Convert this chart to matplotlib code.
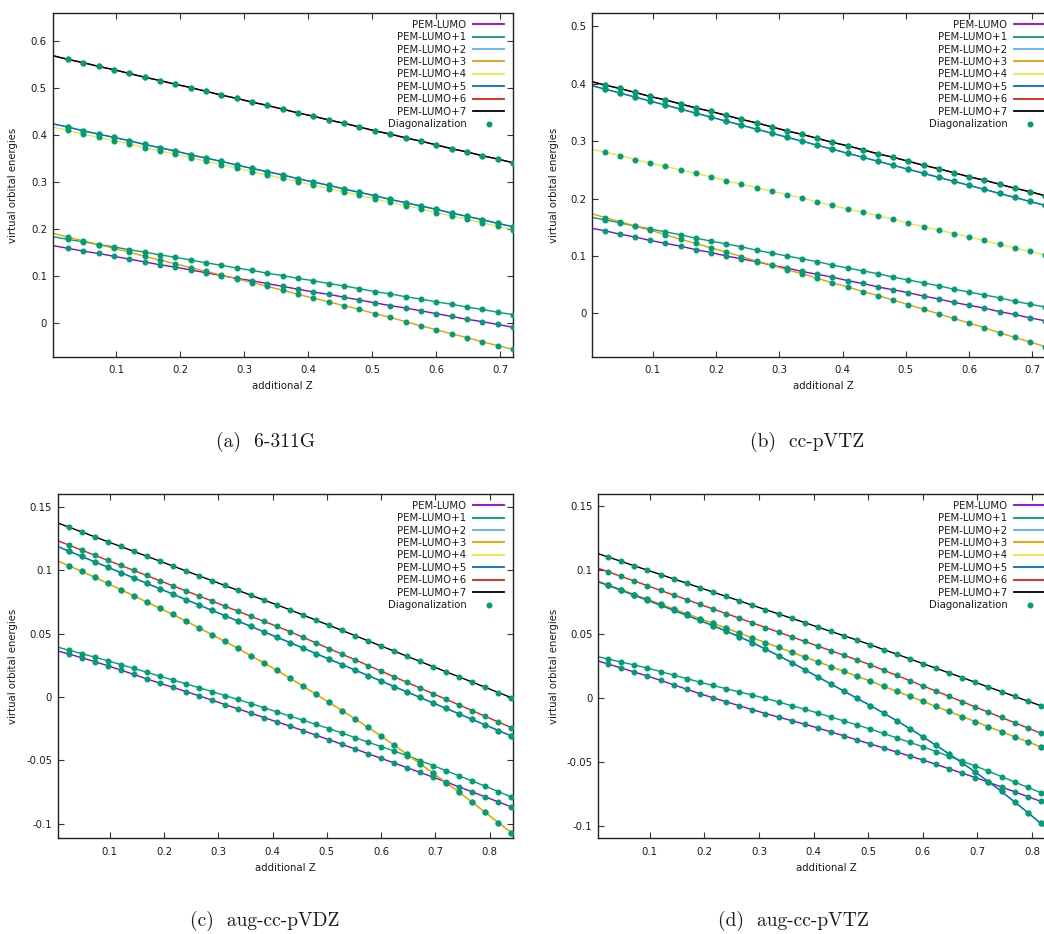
import matplotlib.pyplot as plt
from matplotlib.lines import Line2D
from matplotlib.ticker import FuncFormatter

# additional nuclear charge; the first entry (0) only starts the PEM curve,
# diagonalization points are at the remaining ones
z_ab = [0.000, 0.024, 0.048, 0.072, 0.096, 0.120, 0.144, 0.168, 0.192, 0.216,
        0.240, 0.264, 0.288, 0.312, 0.336, 0.360, 0.384, 0.408, 0.432, 0.456,
        0.480, 0.504, 0.528, 0.552, 0.576, 0.600, 0.624, 0.648, 0.672, 0.696,
        0.720]
z_cd = z_ab + [0.744, 0.768, 0.792, 0.816, 0.840]

# (a) 6-311G
lumo0_a = [0.165, 0.159, 0.153, 0.148, 0.142, 0.136, 0.130, 0.124, 0.119, 0.113,
           0.107, 0.101, 0.095, 0.090, 0.084, 0.078, 0.072, 0.066, 0.061, 0.055,
           0.049, 0.043, 0.037, 0.032, 0.026, 0.020, 0.014, 0.008, 0.003, -0.003,
           -0.009]
lumo1_a = [0.184, 0.178, 0.173, 0.167, 0.162, 0.156, 0.151, 0.145, 0.140, 0.134,
           0.128, 0.123, 0.117, 0.112, 0.106, 0.101, 0.095, 0.090, 0.084, 0.079,
           0.073, 0.067, 0.062, 0.056, 0.051, 0.045, 0.040, 0.034, 0.029, 0.023,
           0.018]
lumo5_a = [0.424, 0.417, 0.409, 0.402, 0.395, 0.388, 0.380, 0.373, 0.366, 0.358,
           0.351, 0.344, 0.336, 0.329, 0.322, 0.315, 0.307, 0.300, 0.293, 0.285,
           0.278, 0.271, 0.263, 0.256, 0.249, 0.242, 0.234, 0.227, 0.220, 0.212,
           0.205]
lumo2_a = list(lumo5_a)
lumo3_a = [0.191, 0.183, 0.175, 0.167, 0.159, 0.151, 0.142, 0.134, 0.126, 0.118,
           0.110, 0.102, 0.094, 0.086, 0.078, 0.070, 0.061, 0.053, 0.045, 0.037,
           0.029, 0.020, 0.012, 0.003, -0.006, -0.014, -0.023, -0.031, -0.040,
           -0.048, -0.056]
lumo4_a = [0.417, 0.410, 0.402, 0.395, 0.388, 0.381, 0.373, 0.366, 0.359, 0.352,
           0.344, 0.337, 0.330, 0.322, 0.315, 0.308, 0.301, 0.293, 0.286, 0.279,
           0.272, 0.264, 0.257, 0.250, 0.243, 0.235, 0.228, 0.221, 0.213, 0.206,
           0.199]
lumo7_a = [0.569, 0.561, 0.554, 0.546, 0.539, 0.531, 0.523, 0.516, 0.508, 0.501,
           0.493, 0.485, 0.478, 0.470, 0.463, 0.455, 0.447, 0.440, 0.432, 0.425,
           0.417, 0.409, 0.402, 0.394, 0.387, 0.379, 0.371, 0.364, 0.356, 0.349,
           0.341]
lumo6_a = list(lumo7_a)

# (b) cc-pVTZ
lumo0_b = [0.149, 0.144, 0.138, 0.133, 0.127, 0.122, 0.117, 0.111, 0.106, 0.100,
           0.095, 0.090, 0.084, 0.079, 0.073, 0.068, 0.063, 0.057, 0.052, 0.046,
           0.041, 0.036, 0.030, 0.025, 0.019, 0.014, 0.009, 0.003, -0.002, -0.008,
           -0.013]
lumo1_b = [0.168, 0.163, 0.158, 0.152, 0.147, 0.142, 0.137, 0.131, 0.126, 0.121,
           0.116, 0.110, 0.105, 0.100, 0.095, 0.090, 0.084, 0.079, 0.074, 0.069,
           0.063, 0.058, 0.053, 0.048, 0.042, 0.037, 0.032, 0.027, 0.021, 0.016,
           0.011]
lumo5_b = [0.398, 0.391, 0.384, 0.377, 0.370, 0.363, 0.356, 0.349, 0.342, 0.335,
           0.328, 0.321, 0.314, 0.307, 0.300, 0.293, 0.286, 0.279, 0.272, 0.265,
           0.258, 0.251, 0.244, 0.237, 0.230, 0.223, 0.216, 0.209, 0.202, 0.195,
           0.188]
lumo2_b = list(lumo5_b)
lumo3_b = [0.175, 0.167, 0.160, 0.152, 0.145, 0.137, 0.129, 0.122, 0.114, 0.107,
           0.099, 0.091, 0.084, 0.076, 0.069, 0.061, 0.053, 0.046, 0.038, 0.031,
           0.023, 0.015, 0.007, -0.001, -0.009, -0.017, -0.025, -0.034, -0.042,
           -0.050, -0.058]
lumo4_b = [0.287, 0.281, 0.275, 0.268, 0.262, 0.256, 0.250, 0.244, 0.238, 0.231,
           0.225, 0.219, 0.213, 0.207, 0.201, 0.194, 0.188, 0.182, 0.176, 0.170,
           0.164, 0.157, 0.151, 0.145, 0.139, 0.133, 0.127, 0.120, 0.114, 0.108,
           0.102]
lumo7_b = [0.405, 0.398, 0.392, 0.385, 0.378, 0.372, 0.365, 0.358, 0.352, 0.345,
           0.338, 0.332, 0.325, 0.318, 0.312, 0.305, 0.298, 0.292, 0.285, 0.278,
           0.272, 0.265, 0.258, 0.252, 0.245, 0.238, 0.232, 0.225, 0.218, 0.212,
           0.205]
lumo6_b = list(lumo7_b)

# (c) aug-cc-pVDZ
lumo0_c = [0.0368, 0.0340, 0.0310, 0.0279, 0.0247, 0.0213, 0.0178, 0.0143, 0.0109,
           0.0076, 0.0043, 0.0010, -0.0025, -0.0060, -0.0094, -0.0128, -0.0163,
           -0.0197, -0.0230, -0.0266, -0.0302, -0.0338, -0.0374, -0.0411, -0.0448,
           -0.0485, -0.0521, -0.0559, -0.0596, -0.0634, -0.0671, -0.0711, -0.0750,
           -0.0789, -0.0829, -0.0868]
lumo1_c = [0.0398, 0.0370, 0.0343, 0.0314, 0.0286, 0.0256, 0.0226, 0.0195, 0.0164,
           0.0134, 0.0104, 0.0074, 0.0043, 0.0011, -0.0020, -0.0052, -0.0085,
           -0.0118, -0.0151, -0.0184, -0.0217, -0.0250, -0.0285, -0.0321, -0.0357,
           -0.0392, -0.0427, -0.0463, -0.0503, -0.0542, -0.0583, -0.0623, -0.0664,
           -0.0705, -0.0747, -0.0790]
lumo5_c = [0.1195, 0.1152, 0.1110, 0.1067, 0.1025, 0.0982, 0.0940, 0.0897, 0.0855,
           0.0812, 0.0769, 0.0727, 0.0684, 0.0642, 0.0599, 0.0557, 0.0514, 0.0472,
           0.0429, 0.0386, 0.0342, 0.0299, 0.0256, 0.0212, 0.0169, 0.0126, 0.0082,
           0.0039, -0.0004, -0.0048, -0.0091, -0.0134, -0.0178, -0.0221, -0.0265,
           -0.0308]
lumo2_c = list(lumo5_c)
lumo3_c = [0.1080, 0.1037, 0.0992, 0.0945, 0.0897, 0.0847, 0.0800, 0.0749, 0.0701,
           0.0652, 0.0599, 0.0547, 0.0493, 0.0438, 0.0384, 0.0326, 0.0268, 0.0210,
           0.0149, 0.0085, 0.0021, -0.0043, -0.0108, -0.0173, -0.0241, -0.0309,
           -0.0381, -0.0454, -0.0528, -0.0603, -0.0677, -0.0753, -0.0832, -0.0912,
           -0.0993, -0.1071]
lumo4_c = list(lumo3_c)
lumo6_c = [0.1240, 0.1200, 0.1160, 0.1119, 0.1079, 0.1039, 0.0999, 0.0959, 0.0918,
           0.0878, 0.0838, 0.0798, 0.0758, 0.0717, 0.0677, 0.0637, 0.0597, 0.0557,
           0.0516, 0.0471, 0.0427, 0.0382, 0.0338, 0.0293, 0.0248, 0.0204, 0.0159,
           0.0115, 0.0070, 0.0025, -0.0019, -0.0064, -0.0108, -0.0153, -0.0198,
           -0.0242]
lumo7_c = [0.1380, 0.1342, 0.1303, 0.1265, 0.1226, 0.1188, 0.1150, 0.1111, 0.1073,
           0.1034, 0.0996, 0.0957, 0.0919, 0.0880, 0.0842, 0.0803, 0.0765, 0.0727,
           0.0688, 0.0647, 0.0606, 0.0566, 0.0525, 0.0484, 0.0443, 0.0402, 0.0362,
           0.0321, 0.0280, 0.0239, 0.0198, 0.0158, 0.0117, 0.0076, 0.0035, -0.0006]

# (d) aug-cc-pVTZ
lumo0_d = [0.0294, 0.0263, 0.0232, 0.0200, 0.0169, 0.0135, 0.0100, 0.0066, 0.0031,
           -0.0001, -0.0032, -0.0063, -0.0094, -0.0124, -0.0152, -0.0180, -0.0208,
           -0.0237, -0.0268, -0.0299, -0.0331, -0.0362, -0.0393, -0.0425, -0.0456,
           -0.0487, -0.0521, -0.0556, -0.0590, -0.0624, -0.0661, -0.0698, -0.0736,
           -0.0773, -0.0811, -0.0848]
lumo1_d = [0.0326, 0.0302, 0.0278, 0.0255, 0.0231, 0.0204, 0.0176, 0.0149, 0.0121,
           0.0095, 0.0070, 0.0045, 0.0020, -0.0006, -0.0034, -0.0063, -0.0091,
           -0.0120, -0.0152, -0.0183, -0.0214, -0.0246, -0.0280, -0.0314, -0.0349,
           -0.0383, -0.0421, -0.0458, -0.0496, -0.0534, -0.0575, -0.0617, -0.0659,
           -0.0701, -0.0743, -0.0785]
lumo5_d = [0.0914, 0.0877, 0.0839, 0.0800, 0.0761, 0.0722, 0.0682, 0.0643, 0.0603,
           0.0562, 0.0520, 0.0476, 0.0430, 0.0380, 0.0328, 0.0274, 0.0218, 0.0162,
           0.0106, 0.0050, -0.0006, -0.0062, -0.0120, -0.0180, -0.0242, -0.0306,
           -0.0372, -0.0440, -0.0510, -0.0582, -0.0656, -0.0733, -0.0815, -0.0898,
           -0.0983, -0.1068]
lumo2_d = list(lumo5_d)
lumo3_d = [0.0919, 0.0881, 0.0844, 0.0806, 0.0769, 0.0731, 0.0693, 0.0656, 0.0618,
           0.0581, 0.0543, 0.0505, 0.0468, 0.0430, 0.0393, 0.0355, 0.0317, 0.0280,
           0.0242, 0.0205, 0.0167, 0.0129, 0.0089, 0.0050, 0.0010, -0.0029, -0.0069,
           -0.0108, -0.0148, -0.0187, -0.0227, -0.0266, -0.0306, -0.0345, -0.0385,
           -0.0424]
lumo4_d = list(lumo3_d)
lumo6_d = [0.1020, 0.0984, 0.0947, 0.0911, 0.0875, 0.0838, 0.0802, 0.0766, 0.0729,
           0.0693, 0.0657, 0.0621, 0.0584, 0.0548, 0.0512, 0.0475, 0.0439, 0.0403,
           0.0366, 0.0330, 0.0294, 0.0256, 0.0215, 0.0174, 0.0133, 0.0092, 0.0051,
           0.0010, -0.0031, -0.0073, -0.0114, -0.0155, -0.0196, -0.0237, -0.0278,
           -0.0319]
lumo7_d = [0.1133, 0.1099, 0.1065, 0.1030, 0.0996, 0.0962, 0.0928, 0.0894, 0.0859,
           0.0825, 0.0791, 0.0757, 0.0722, 0.0688, 0.0654, 0.0620, 0.0586, 0.0551,
           0.0517, 0.0483, 0.0449, 0.0413, 0.0376, 0.0340, 0.0303, 0.0266, 0.0230,
           0.0193, 0.0157, 0.0120, 0.0083, 0.0047, 0.0010, -0.0027, -0.0063, -0.0100]

labels = ['PEM-LUMO', 'PEM-LUMO+1', 'PEM-LUMO+2', 'PEM-LUMO+3',
          'PEM-LUMO+4', 'PEM-LUMO+5', 'PEM-LUMO+6', 'PEM-LUMO+7']
# gnuplot default line colours
colors = ['#9400d3', '#009e73', '#56b4e9', '#e69f00',
          '#f0e442', '#0072b2', '#e51e10', '#000000']
dot_color = '#009e73'

panels = [
    dict(caption='(a)  6-311G', z=z_ab,
         orbs=[lumo0_a, lumo1_a, lumo2_a, lumo3_a, lumo4_a, lumo5_a, lumo6_a, lumo7_a],
         rect=[52.5, 13.3, 513, 356.7], xlim=(0.0, 0.72), ylim=(-0.0716, 0.659),
         xticks=[0.1, 0.2, 0.3, 0.4, 0.5, 0.6, 0.7],
         yticks=[0, 0.1, 0.2, 0.3, 0.4, 0.5, 0.6],
         ylab_x=-0.086, cap=(266, 442)),
    dict(caption='(b)  cc-pVTZ', z=z_ab,
         orbs=[lumo0_b, lumo1_b, lumo2_b, lumo3_b, lumo4_b, lumo5_b, lumo6_b, lumo7_b],
         rect=[592, 13.3, 1054, 356.7], xlim=(0.004, 0.734), ylim=(-0.0756, 0.523),
         xticks=[0.1, 0.2, 0.3, 0.4, 0.5, 0.6, 0.7],
         yticks=[0, 0.1, 0.2, 0.3, 0.4, 0.5],
         ylab_x=-0.082, cap=(807, 442)),
    dict(caption='(c)  aug-cc-pVDZ', z=z_cd,
         orbs=[lumo0_c, lumo1_c, lumo2_c, lumo3_c, lumo4_c, lumo5_c, lumo6_c, lumo7_c],
         rect=[57.7, 494.3, 513, 838.3], xlim=(0.004, 0.843), ylim=(-0.1116, 0.16),
         xticks=[0.1, 0.2, 0.3, 0.4, 0.5, 0.6, 0.7, 0.8],
         yticks=[-0.1, -0.05, 0, 0.05, 0.1, 0.15],
         ylab_x=-0.098, cap=(265, 921)),
    dict(caption='(d)  aug-cc-pVTZ', z=z_cd,
         orbs=[lumo0_d, lumo1_d, lumo2_d, lumo3_d, lumo4_d, lumo5_d, lumo6_d, lumo7_d],
         rect=[598, 494.3, 1054, 838.3], xlim=(0.0055, 0.84), ylim=(-0.1099, 0.1589),
         xticks=[0.1, 0.2, 0.3, 0.4, 0.5, 0.6, 0.7, 0.8],
         yticks=[-0.1, -0.05, 0, 0.05, 0.1, 0.15],
         ylab_x=-0.096, cap=(793, 921)),
]

W, H = 1044, 934
fig = plt.figure(figsize=(W / 100, H / 100), dpi=100)
fmt = FuncFormatter(lambda v, pos: '%g' % round(v, 4))
txt = '#1a1a1a'

for p in panels:
    x0, y0, x1, y1 = p['rect']
    ax = fig.add_axes([x0 / W, 1 - y1 / H, (x1 - x0) / W, (y1 - y0) / H])
    ax.patch.set_alpha(0)
    z = p['z']
    for i, (vals, c) in enumerate(zip(p['orbs'], colors)):
        # LUMO+4 goes under LUMO+3 where the two coincide
        zo = 1.8 if i == 4 else 2
        ax.plot(z, vals, color=c, lw=1.0, zorder=zo)
    for vals in p['orbs']:
        ax.plot(z[1:], vals[1:], ls='none', marker='o', ms=3.3,
                color=dot_color, zorder=3)

    ax.set_xlim(*p['xlim'])
    ax.set_ylim(*p['ylim'])
    ax.set_xticks(p['xticks'])
    ax.set_yticks(p['yticks'])
    ax.xaxis.set_major_formatter(fmt)
    ax.yaxis.set_major_formatter(fmt)
    ax.tick_params(direction='in', top=True, right=True, length=4.5, width=0.8,
                   labelsize=7.3, colors='#333333', labelcolor=txt)
    ax.tick_params(axis='x', pad=6)
    ax.tick_params(axis='y', pad=4)
    for s in ax.spines.values():
        s.set_linewidth(1.0)
        s.set_color('#222222')

    ax.set_xlabel('additional Z', fontsize=7.3, color=txt)
    ax.xaxis.label.set_va('center')
    ax.xaxis.set_label_coords(0.5, -0.085)
    ax.set_ylabel('virtual orbital energies', fontsize=7.3, color=txt)
    ax.yaxis.label.set_va('center')
    ax.yaxis.set_label_coords(p['ylab_x'], 0.5)

    handles = [Line2D([], [], color=c, lw=1.3) for c in colors]
    handles.append(Line2D([], [], ls='none', marker='o', ms=3.3, color=dot_color))
    ax.legend(handles, labels + ['Diagonalization'], loc='upper right',
              bbox_to_anchor=(1.0, 1.008), frameon=False, markerfirst=False,
              fontsize=7.3, handlelength=3.0, handletextpad=0.7,
              labelspacing=0.24, borderaxespad=0.5, labelcolor=txt)

    cx, cy = p['cap']
    fig.text(cx / W, 1 - cy / H, p['caption'], ha='center', va='center',
             fontsize=14, family=['cmr10', 'DejaVu Serif'], color=txt)

fig.savefig('out.png', dpi=100)
